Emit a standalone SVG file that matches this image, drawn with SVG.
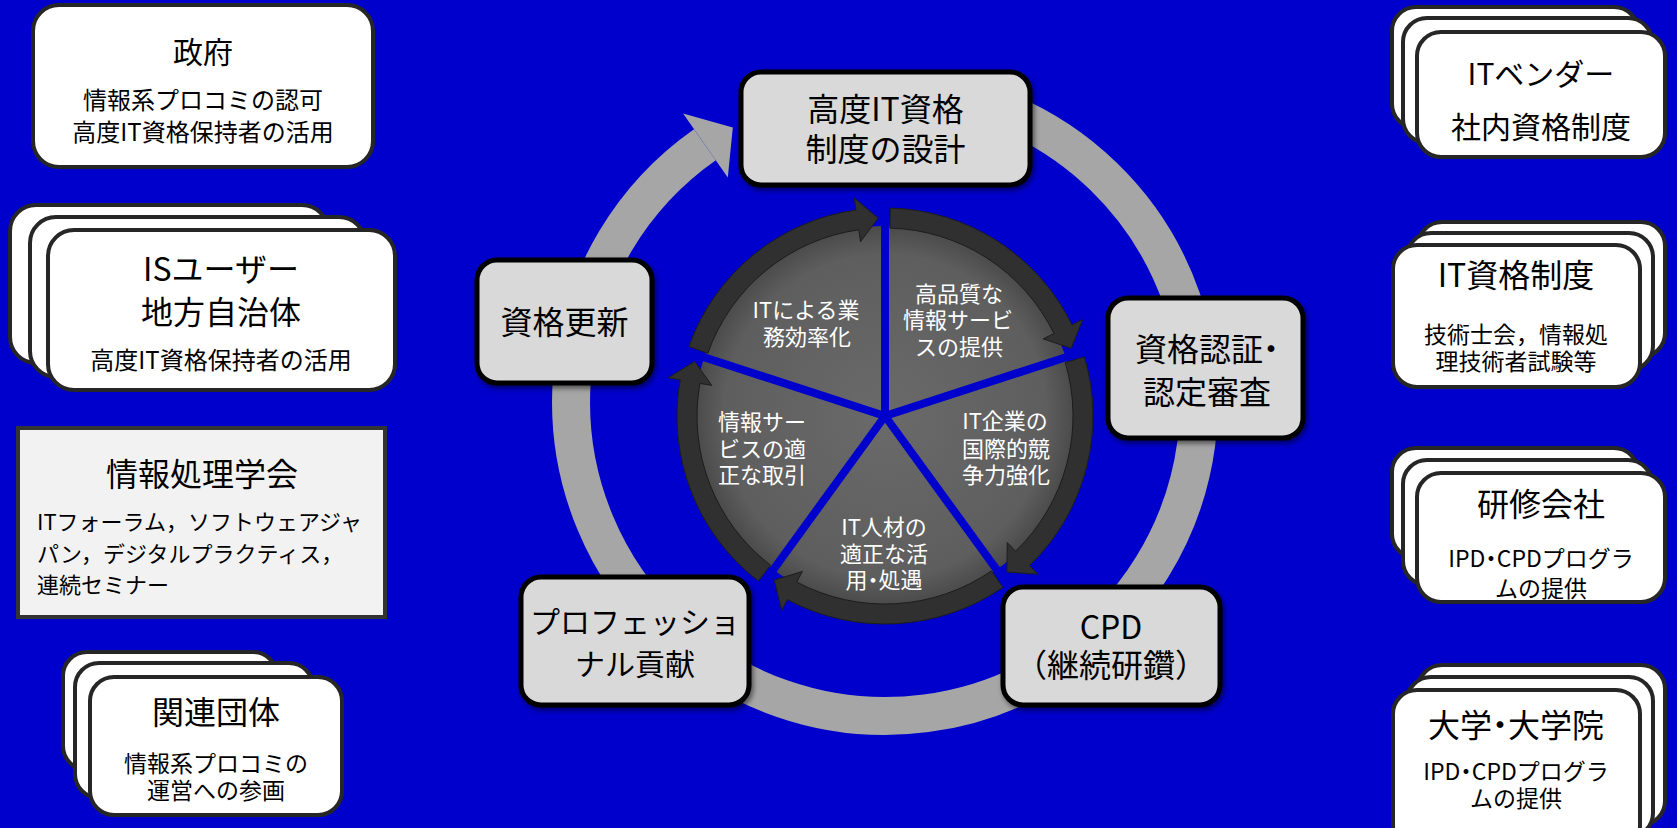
<svg xmlns="http://www.w3.org/2000/svg" width="1677" height="828" viewBox="0 0 1677 828">
  <defs>
    <style>
      text { font-family: "Noto Sans CJK JP", "Noto Sans", sans-serif; text-anchor: middle; dominant-baseline: central; }
      .halt { font-feature-settings: "halt" 1; }
      .left { text-anchor: start; }
      .side { fill: #ffffff; stroke: #262626; stroke-width: 4; }
      .soc { fill: #f2f2f2; stroke: #333333; stroke-width: 4; }
      .step { fill: #d9d9d9; stroke: #000000; stroke-width: 5; filter: url(#shadow); }
      .t-dark { fill: #000000; }
      .t-pie { fill: #ffffff; font-size: 22px; }
      .rim { fill: #303030; stroke: #1c1c1c; stroke-width: 1; }
      .gap { stroke: #0000cc; stroke-width: 8; stroke-linecap: butt; }
    </style>
    <filter id="shadow" x="-10%" y="-10%" width="125%" height="130%">
      <feDropShadow dx="2" dy="3" stdDeviation="2.5" flood-color="#000000" flood-opacity="0.5"/>
    </filter>
    <radialGradient id="pieFill" cx="885" cy="416" r="190" gradientUnits="userSpaceOnUse">
      <stop offset="0" stop-color="#6a6a6a"/>
      <stop offset="0.85" stop-color="#5e5e5e"/>
      <stop offset="1" stop-color="#4a4a4a"/>
    </radialGradient>
  </defs>

  <rect x="0" y="0" width="1677" height="828" fill="#0000cc"/>

  <!-- connectors: big cycle arrow -->
  <g id="connectors">
    <path d="M 992.4 106.9 A 314 314 0 1 1 704.9 144.8" fill="none" stroke="#a6a6a6" stroke-width="38"/>
    <polygon points="683.1,113.6 732.8,127.4 727.8,177.5" fill="#a6a6a6"/>
  </g>

  <!-- central pie -->
  <g id="pie">
    <circle cx="885" cy="416" r="190" fill="url(#pieFill)"/>
    <g id="pie-rims">
      <path class="rim" d="M 688.9 346.6 A 208 208 0 0 1 856.0 210.0 L 854.4 198.1 L 878.1 218.1 L 860.5 241.7 L 858.8 229.8 A 188 188 0 0 0 707.8 353.2 Z"/>
      <path class="rim" d="M 890.4 208.1 A 208 208 0 0 1 1071.9 324.8 L 1082.7 319.6 L 1071.1 348.3 L 1043.2 338.8 L 1054.0 333.6 A 188 188 0 0 0 889.9 228.1 Z"/>
      <path class="rim" d="M 1084.4 356.9 A 208 208 0 0 1 1029.5 565.6 L 1037.8 574.2 L 1006.9 572.0 L 1007.3 542.6 L 1015.6 551.2 A 188 188 0 0 0 1065.3 362.6 Z"/>
      <path class="rim" d="M 1002.8 587.4 A 208 208 0 0 1 787.3 599.6 L 781.7 610.2 L 774.3 580.1 L 802.4 571.4 L 796.7 582.0 A 188 188 0 0 0 991.5 570.9 Z"/>
      <path class="rim" d="M 758.4 581.0 A 208 208 0 0 1 680.2 379.9 L 668.3 377.8 L 694.7 361.4 L 711.7 385.4 L 699.9 383.4 A 188 188 0 0 0 770.5 565.2 Z"/>
    </g>
    <g id="pie-gaps">
      <line class="gap" x1="885" y1="416" x2="885" y2="191"/>
      <line class="gap" x1="885" y1="416" x2="1099.0" y2="346.5"/>
      <line class="gap" x1="885" y1="416" x2="1017.3" y2="598.0"/>
      <line class="gap" x1="885" y1="416" x2="752.7" y2="598.0"/>
      <line class="gap" x1="885" y1="416" x2="671.0" y2="346.5"/>
    </g>
    <g id="wedge-efficiency">
      <text class="t-pie" x="806" y="308">ITによる業</text>
      <text class="t-pie" x="807" y="335">務効率化</text>
    </g>
    <g id="wedge-quality">
      <text class="t-pie" x="959" y="292">高品質な</text>
      <text class="t-pie" x="958" y="318">情報サービ</text>
      <text class="t-pie" x="959" y="345">スの提供</text>
    </g>
    <g id="wedge-competitiveness">
      <text class="t-pie" x="1005" y="419">IT企業の</text>
      <text class="t-pie" x="1006" y="447">国際的競</text>
      <text class="t-pie" x="1006" y="473">争力強化</text>
    </g>
    <g id="wedge-talent">
      <text class="t-pie" x="884" y="525">IT人材の</text>
      <text class="t-pie" x="884" y="552">適正な活</text>
      <text class="t-pie halt" x="884" y="578">用・処遇</text>
    </g>
    <g id="wedge-trade">
      <text class="t-pie" x="762" y="420">情報サー</text>
      <text class="t-pie" x="762" y="447">ビスの適</text>
      <text class="t-pie" x="762" y="473">正な取引</text>
    </g>
  </g>

  <!-- cycle step nodes -->
  <g id="node-design">
    <rect class="step" x="741" y="72" width="289" height="113" rx="20"/>
    <text class="t-dark" x="885.5" y="107" font-size="32">高度IT資格</text>
    <text class="t-dark" x="885.5" y="147" font-size="32">制度の設計</text>
  </g>
  <g id="node-certification">
    <rect class="step" x="1108" y="298" width="195" height="140" rx="20"/>
    <text class="t-dark halt" x="1207" y="347" font-size="32">資格認証・</text>
    <text class="t-dark" x="1207" y="390" font-size="32">認定審査</text>
  </g>
  <g id="node-cpd">
    <rect class="step" x="1003" y="587" width="217" height="118" rx="20"/>
    <text class="t-dark" x="1111" y="625" font-size="32">CPD</text>
    <text class="t-dark halt" x="1111" y="663" font-size="32">（継続研鑽）</text>
  </g>
  <g id="node-professional">
    <rect class="step" x="521" y="577" width="228" height="128" rx="20"/>
    <text class="t-dark" x="635" y="620" font-size="30">プロフェッショ</text>
    <text class="t-dark" x="635" y="662" font-size="30">ナル貢献</text>
  </g>
  <g id="node-renewal">
    <rect class="step" x="477" y="260" width="175" height="123" rx="20"/>
    <text class="t-dark" x="564.5" y="320" font-size="32">資格更新</text>
  </g>

  <!-- left side stakeholders -->
  <g id="node-government">
    <rect class="side" x="33" y="5" width="340" height="162" rx="26"/>
    <text class="t-dark" x="203" y="50" font-size="30">政府</text>
    <text class="t-dark" x="203" y="98" font-size="24">情報系プロコミの認可</text>
    <text class="t-dark" x="203" y="130" font-size="24">高度IT資格保持者の活用</text>
  </g>
  <g id="node-is-users">
    <rect class="side" x="10" y="205" width="318" height="158" rx="26"/>
    <rect class="side" x="30" y="217" width="335" height="160" rx="26"/>
    <rect class="side" x="48" y="230" width="347" height="160" rx="26"/>
    <text class="t-dark" x="221" y="267" font-size="32">ISユーザー</text>
    <text class="t-dark" x="221" y="310" font-size="32">地方自治体</text>
    <text class="t-dark" x="221" y="358" font-size="24">高度IT資格保持者の活用</text>
  </g>
  <g id="node-ipsj">
    <rect class="soc" x="18" y="428" width="367" height="189"/>
    <text class="t-dark" x="202" y="472" font-size="32">情報処理学会</text>
    <text class="t-dark left" x="37" y="520" font-size="22">ITフォーラム，ソフトウェアジャ</text>
    <text class="t-dark left" x="37" y="552" font-size="22">パン，デジタルプラクティス，</text>
    <text class="t-dark left" x="37" y="583" font-size="22">連続セミナー</text>
  </g>
  <g id="node-related-orgs">
    <rect class="side" x="63" y="652" width="214" height="118" rx="24"/>
    <rect class="side" x="75" y="663" width="238" height="135" rx="24"/>
    <rect class="side" x="90" y="677" width="252" height="138" rx="24"/>
    <text class="t-dark" x="216" y="710" font-size="32">関連団体</text>
    <text class="t-dark" x="216" y="762" font-size="23">情報系プロコミの</text>
    <text class="t-dark" x="216" y="789" font-size="23">運営への参画</text>
  </g>

  <!-- right side stakeholders -->
  <g id="node-it-vendor">
    <rect class="side" x="1392" y="7" width="246" height="121" rx="24"/>
    <rect class="side" x="1403" y="18" width="249" height="125" rx="24"/>
    <rect class="side" x="1417" y="32" width="248" height="125" rx="24"/>
    <text class="t-dark" x="1541" y="72" font-size="30">ITベンダー</text>
    <text class="t-dark" x="1541" y="125" font-size="30">社内資格制度</text>
  </g>
  <g id="node-it-cert">
    <rect class="side" x="1418" y="222" width="247" height="135" rx="24"/>
    <rect class="side" x="1407" y="233" width="246" height="137" rx="24"/>
    <rect class="side" x="1393" y="245" width="247" height="142" rx="24"/>
    <text class="t-dark" x="1516" y="273" font-size="32">IT資格制度</text>
    <text class="t-dark" x="1516" y="333" font-size="23">技術士会，情報処</text>
    <text class="t-dark" x="1516" y="360" font-size="23">理技術者試験等</text>
  </g>
  <g id="node-training">
    <rect class="side" x="1392" y="448" width="246" height="110" rx="24"/>
    <rect class="side" x="1403" y="460" width="249" height="125" rx="24"/>
    <rect class="side" x="1417" y="473" width="248" height="129" rx="24"/>
    <text class="t-dark" x="1541" y="502" font-size="32">研修会社</text>
    <text class="t-dark halt" x="1541" y="557" font-size="23">IPD・CPDプログラ</text>
    <text class="t-dark" x="1541" y="587" font-size="23">ムの提供</text>
  </g>
  <g id="node-university">
    <rect class="side" x="1418" y="665" width="247" height="160" rx="24"/>
    <rect class="side" x="1407" y="677" width="246" height="160" rx="24"/>
    <rect class="side" x="1393" y="690" width="247" height="160" rx="24"/>
    <text class="t-dark halt" x="1516" y="723" font-size="32">大学・大学院</text>
    <text class="t-dark halt" x="1516" y="770" font-size="23">IPD・CPDプログラ</text>
    <text class="t-dark" x="1516" y="797" font-size="23">ムの提供</text>
  </g>
</svg>
